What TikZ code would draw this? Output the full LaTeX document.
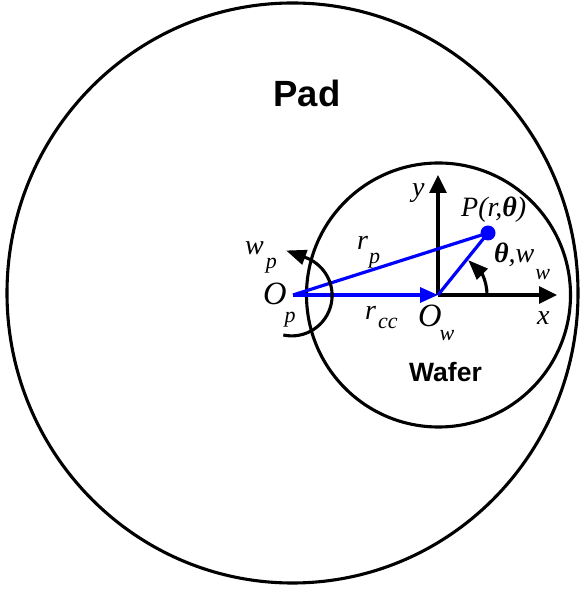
\documentclass[tikz,border=0pt]{standalone}
\usepackage{fontspec}
\setmainfont{Liberation Serif}
\newfontfamily\padfont{Liberation Sans}
\usetikzlibrary{arrows.meta}
\newcommand\subs[2]{\raisebox{-#1pt}{\fontsize{22}{22}\selectfont #2}}
\newcommand\bigO{{\fontsize{32.5}{32.5}\selectfont O}}
\begin{document}
\begin{tikzpicture}[x=1pt,y=1pt,
  outline/.style={line width=3.1pt,black},
  bluel/.style={line width=3.2pt,blue},
  axisarrow/.style={line width=3.1pt,black,-{Triangle[length=18pt,width=17pt]}},
  arcarrow/.style={line width=3.1pt,black,-{Triangle[length=20pt,width=15pt]}},
  lab/.style={anchor=base west,inner sep=0pt,font=\fontsize{28}{28}\selectfont\itshape},
  title/.style={anchor=base,inner sep=0pt}]
\useasboundingbox (0,0) rectangle (582,591);
% circles
\draw[outline] (292.5,298) ellipse [x radius=285.5, y radius=290];
\draw[outline] (438.5,296) circle [radius=132];
% coordinates
\coordinate (Op) at (293,296);
\coordinate (Ow) at (438,296);
\coordinate (P) at (488,358);
\coordinate (ytip) at (438,416);
\coordinate (xtip) at (557,296);
% axes
\draw[axisarrow] (Ow) -- (ytip);
\draw[axisarrow] (Ow) -- (xtip);
% blue vectors
\draw[bluel] (Op) -- (P);
\draw[bluel] (Ow) -- (P);
\draw[bluel,-{Triangle[length=18pt,width=15pt]}] (Op) -- (Ow);
\fill[blue] (P) circle [radius=7.5];
% theta arc
\draw[arcarrow] ([shift={(0:49)}]Ow) arc [start angle=0,end angle=25,radius=49] -- ++(135:20);
% w_p arc
\coordinate (wc) at (291.7,295.5);
\draw[arcarrow] ([shift={(-102:40.4)}]wc) arc [start angle=-102,end angle=68,radius=40.4] -- ++(160:22);
% labels
\node[title,font=\padfont\bfseries\fontsize{36.5}{36.5}\selectfont] (padlbl) at (307,484) {Pad};
\node[title,font=\padfont\bfseries\fontsize{26.5}{26.5}\selectfont] (waferlbl) at (445.5,209) {Wafer};
\node[lab] (ylbl) at (412,394) {y};
\node[lab] (Plbl) at (461,374) {P(r,{\bfseries θ})};
\node[lab] (thlbl) at (494,328) {{\bfseries θ},w\kern1pt\subs{17}{w}};
\node[lab] (xlbl) at (537,266) {x};
\node[lab] (rplbl) at (357,341) {r\kern1pt\subs{14}{p}};
\node[lab] (wplbl) at (245,336) {w\kern2pt\subs{14}{p}};
\node[lab] (Oplbl) at (263,286) {\bigO\kern-2pt\subs{18}{p}};
\node[lab] (rcclbl) at (365,271) {r\kern2pt\subs{9}{cc}};
\node[lab] (Owlbl) at (418,264) {\bigO\kern-2pt\subs{14}{w}};
\end{tikzpicture}
\end{document}
